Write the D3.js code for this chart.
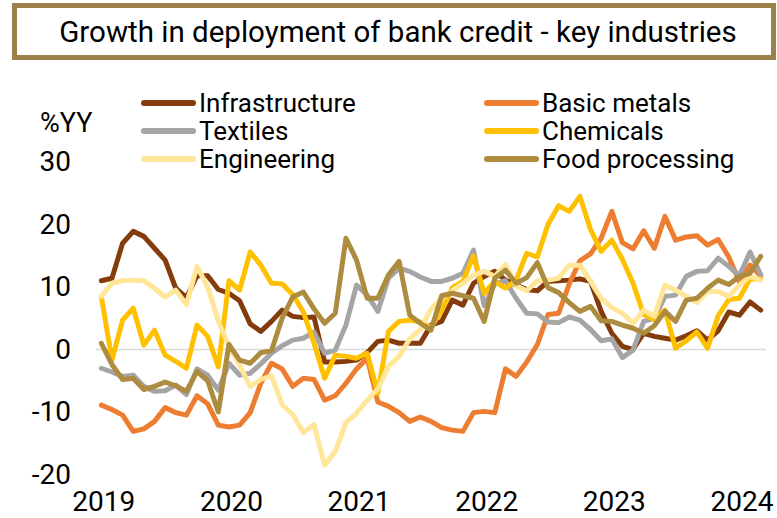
<!DOCTYPE html>
<html lang="en">
<head>
<meta charset="UTF-8">
<title>Growth in deployment of bank credit - key industries</title>
<script src="https://cdn.jsdelivr.net/npm/d3@7"></script>
<style>
  body { margin: 0; background: #fff; }
  svg text { font-family: Roboto, "Liberation Sans", sans-serif; fill: #000; }
</style>
</head>
<body>
<svg id="chart" width="777" height="518"></svg>
<script>
// monthly categories, Jan 2019 .. Mar 2024
var months = d3.timeMonth.range(new Date(2019, 0, 1), new Date(2024, 3, 1));
var yearTicks = months.filter(function(d) { return d.getMonth() === 0; });
var yTicks = [-20, -10, 0, 10, 20, 30];

// growth, %YY
var infrastructure = [11.0, 11.4, 17.0, 18.9, 18.1, 16.2, 14.3, 9.8, 8.3, 11.8,
  11.8, 9.6, 9.0, 7.8, 4.1, 2.9, 4.5, 6.3, 5.3, 5.1,
  5.2, -2.0, -2.0, -1.9, -1.7, -0.5, 1.3, 1.5, 1.0, 1.0,
  1.0, 3.9, 4.5, 7.9, 7.1, 10.6, 11.7, 12.5, 11.1, 10.3,
  9.6, 9.4, 10.9, 11.0, 11.1, 11.3, 10.9, 6.1, 2.6, 0.5,
  0.0, 2.6, 2.1, 1.8, 1.5, 2.2, 3.0, 1.5, 3.0, 6.0,
  5.5, 7.6, 6.3];
var basicMetals = [-8.9, -9.6, -10.5, -13.1, -12.7, -11.5, -9.3, -10.1, -10.5, -7.4,
  -8.7, -12.1, -12.4, -12.1, -10.1, -5.4, -2.2, -3.1, -5.9, -4.6,
  -4.8, -8.1, -7.4, -5.4, -3.1, -1.4, -8.4, -9.1, -10.1, -11.5,
  -10.8, -11.5, -12.5, -12.9, -13.1, -10.1, -9.9, -10.1, -3.1, -4.3,
  -2.0, 0.8, 5.6, 5.8, 10.5, 14.2, 15.3, 17.8, 22.1, 17.1,
  16.1, 19.0, 16.2, 21.3, 17.5, 18.0, 18.2, 16.7, 17.6, 14.8,
  10.8, 13.5, 11.8];
var textiles = [-3.0, -3.6, -4.3, -4.1, -5.9, -6.7, -6.6, -5.7, -7.2, -3.1,
  -4.1, -6.5, -2.2, -4.1, -3.8, -2.3, -0.6, 0.6, 1.5, 1.8,
  2.8, -0.6, -0.1, 3.9, 10.3, 8.7, 6.1, 11.4, 13.0, 12.5,
  11.6, 10.9, 10.9, 11.4, 12.2, 15.9, 7.0, 10.5, 11.0, 8.2,
  5.8, 5.7, 4.4, 4.3, 5.2, 4.7, 3.2, 1.4, 1.7, -1.3,
  -0.1, 4.5, 5.0, 8.5, 8.7, 11.7, 12.5, 12.6, 14.6, 13.3,
  11.8, 15.6, 12.0];
var chemicals = [8.5, -1.7, 4.7, 6.6, 0.7, 3.1, -0.9, -1.9, -3.0, 3.9,
  2.1, -2.8, 11.0, 9.5, 15.6, 13.5, 10.6, 10.5, 8.8, 6.0,
  1.0, -4.6, -0.9, -1.1, -1.4, -0.6, -7.0, 2.9, 4.5, 4.7,
  4.4, 3.5, 6.3, 9.9, 10.9, 15.0, 9.0, 10.9, 9.8, 11.1,
  15.4, 14.8, 20.0, 23.0, 22.1, 24.5, 19.2, 15.7, 17.5, 14.4,
  10.6, 5.6, 4.8, 6.3, 0.2, 1.4, 2.8, 0.2, 5.4, 8.0,
  8.2, 11.3, 11.3];
var engineering = [8.5, 10.6, 11.0, 11.1, 11.0, 9.8, 8.4, 9.5, 7.2, 13.3,
  10.0, 4.5, 0.5, -2.5, -5.9, -4.8, -4.2, -8.8, -10.4, -13.3,
  -12.0, -18.5, -16.3, -11.7, -10.2, -8.1, -6.3, -2.7, -1.1, 1.7,
  3.2, 6.5, 8.2, 9.4, 10.6, 11.9, 12.5, 11.7, 13.6, 10.2,
  9.4, 11.0, 11.1, 11.4, 13.5, 13.5, 10.9, 8.2, 6.7, 5.8,
  4.2, 6.3, 5.3, 10.3, 9.5, 8.5, 7.5, 9.3, 9.3, 8.5,
  10.3, 11.7, 11.1];
var foodProcessing = [1.0, -2.4, -4.8, -4.6, -6.4, -5.9, -5.2, -5.8, -6.7, -3.5,
  -5.0, -10.0, 0.8, -1.7, -2.2, -0.5, -0.2, 5.0, 8.4, 9.2,
  6.5, 4.2, 5.8, 17.8, 14.3, 8.2, 8.2, 11.9, 14.1, 5.5,
  4.2, 3.1, 8.6, 9.0, 8.6, 8.2, 4.5, 11.4, 12.7, 10.6,
  11.5, 13.9, 9.9, 9.1, 7.5, 6.1, 6.9, 4.6, 4.5, 3.9,
  3.4, 2.6, 3.8, 6.1, 4.5, 7.9, 8.2, 9.8, 11.1, 10.4,
  11.7, 12.2, 14.9];

var seriesNames = ["Infrastructure", "Basic metals", "Textiles", "Chemicals", "Engineering", "Food processing"];
var seriesColors = ["#843C0C", "#ED7D31", "#A5A5A5", "#FFC000", "#FFE699", "#AD8B3F"];
var seriesValues = [infrastructure, basicMetals, textiles, chemicals, engineering, foodProcessing];

var svg = d3.select("#chart");

// title box
svg.append("rect")
  .attr("x", 14.5).attr("y", 5.5)
  .attr("width", 759).attr("height", 52)
  .attr("fill", "#fff")
  .attr("stroke", "#9C824A")
  .attr("stroke-width", 5);
svg.append("text")
  .attr("x", 398).attr("y", 42)
  .attr("text-anchor", "middle")
  .style("font-size", "29.5px")
  .text("Growth in deployment of bank credit - key industries");

var x = d3.scalePoint().domain(months).range([96, 766]).padding(0.5);
var y = d3.scaleLinear().domain([-20, 30]).range([474.5, 162]);

// zero line
svg.append("line")
  .attr("x1", 96).attr("x2", 766)
  .attr("y1", y(0)).attr("y2", y(0))
  .attr("stroke", "#D9D9D9").attr("stroke-width", 1.5);

// y axis labels (plain hyphen for negatives, as in the source)
var yAxis = svg.append("g")
  .attr("transform", "translate(71,0)")
  .call(d3.axisLeft(y).tickValues(yTicks).tickSize(0).tickPadding(0)
    .tickFormat(function(d) { return String(d); }));
yAxis.select(".domain").remove();
yAxis.selectAll("text")
  .style("font-size", "28px")
  .attr("font-family", null);

svg.append("text")
  .attr("x", 40).attr("y", 132)
  .style("font-size", "27px")
  .text("%YY");

// x axis labels
var xAxis = svg.append("g")
  .attr("transform", "translate(2,488)")
  .call(d3.axisBottom(x).tickValues(yearTicks).tickSize(0).tickPadding(3)
    .tickFormat(d3.timeFormat("%Y")));
xAxis.select(".domain").remove();
xAxis.selectAll("text")
  .style("font-size", "28px")
  .attr("font-family", null);

// lines
var line = d3.line()
  .x(function(d, i) { return x(months[i]); })
  .y(function(d) { return y(d); });

svg.append("g").selectAll("path")
  .data(seriesValues)
  .enter().append("path")
  .attr("d", line)
  .attr("fill", "none")
  .attr("stroke", function(d, i) { return seriesColors[i]; })
  .attr("stroke-width", 5)
  .attr("stroke-linejoin", "round")
  .attr("stroke-linecap", "round");

// legend, two columns
var legend = svg.append("g").selectAll("g")
  .data(seriesNames)
  .enter().append("g")
  .attr("transform", function(d, i) {
    var col = i % 2, row = Math.floor(i / 2);
    return "translate(" + (col ? 484 : 141) + "," + (103 + row * 28) + ")";
  });
legend.append("line")
  .attr("x1", 3).attr("x2", 52)
  .attr("stroke", function(d, i) { return seriesColors[i]; })
  .attr("stroke-width", 6)
  .attr("stroke-linecap", "round");
legend.append("text")
  .attr("x", 58).attr("dy", "0.35em")
  .style("font-size", "26px")
  .text(function(d) { return d; });
</script>
</body>
</html>
